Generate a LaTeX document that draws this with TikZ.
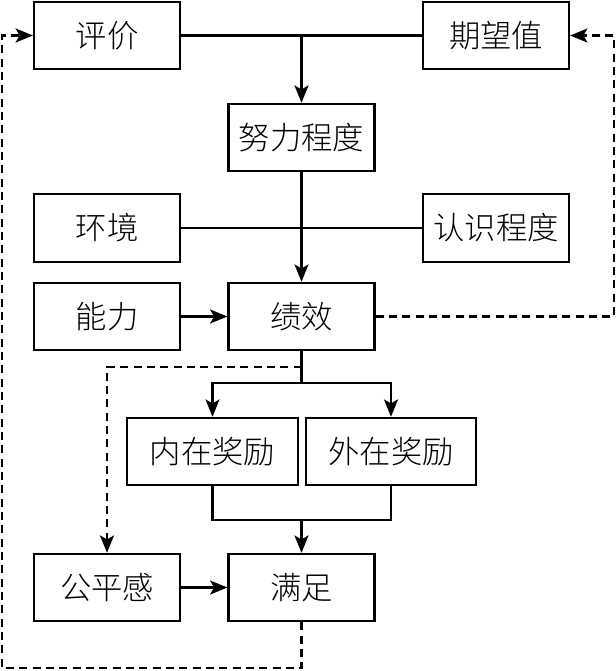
\documentclass[tikz,border=0pt]{standalone}
\usepackage{fontspec}
\setmainfont{Noto Sans CJK SC}[UprightFont={* Light}]
\usepackage{tikz}
\usetikzlibrary{arrows.meta,positioning,calc}

\begin{document}
\begin{tikzpicture}[x=0.75pt,y=-0.75pt,>={Stealth[length=13pt,width=10.5pt,inset=3pt]},line width=1.6pt,
  box/.style={draw,minimum width=109.5pt,minimum height=50.5pt,inner sep=0pt,font=\fontsize{23.5}{28}\selectfont},
  wide/.style={box,minimum width=128pt},
  fb/.style={dashed,dash pattern=on 6pt off 4pt}]
\useasboundingbox (0,0) rectangle (616,671);
\node[box] (pj) at (107,35.5) {评价};
\node[box] (qw) at (496,35.5) {期望值};
\node[box] (nl) at (301.5,137.5) {努力程度};
\node[box] (hj) at (107,228) {环境};
\node[box] (rs) at (496,228) {认识程度};
\node[box] (nlz) at (107,316.5) {能力};
\node[box] (jx) at (301.5,316.5) {绩效};
\node[wide] (nz) at (212.5,451.5) {内在奖励};
\node[wide] (wz) at (391,451.5) {外在奖励};
\node[box] (gp) at (107,587.5) {公平感};
\node[box] (mz) at (301.5,587.5) {满足};
\coordinate (split) at (301.5,383);
\coordinate (join) at (301.5,520);
\coordinate (eq) at (301.5,367);
\coordinate (rt) at (614,316.5);
\coordinate (lb) at (2,668);
\draw (pj.east) -- (qw.west);
\draw[->] (pj.east -| nl) -- (nl.north);
\draw (hj.east) -- (rs.west);
\draw[->] (nl.south) -- (jx.north);
\draw[->] (nlz) -- (jx);
\draw (jx.south) -- (split);
\draw[->] (split) -| (nz.north);
\draw[->] (split) -| (wz.north);
\draw (nz.south) |- (join) -| (wz.south);
\draw[->] (join) -- (mz.north);
\draw[->] (gp) -- (mz);
\draw[fb,->] (jx.east) -- (rt) |- (qw.east);
\draw[fb,->] (eq) -| (gp.north);
\draw[fb,->] (mz.south) |- (lb) |- (pj.west);
\end{tikzpicture}
\end{document}
